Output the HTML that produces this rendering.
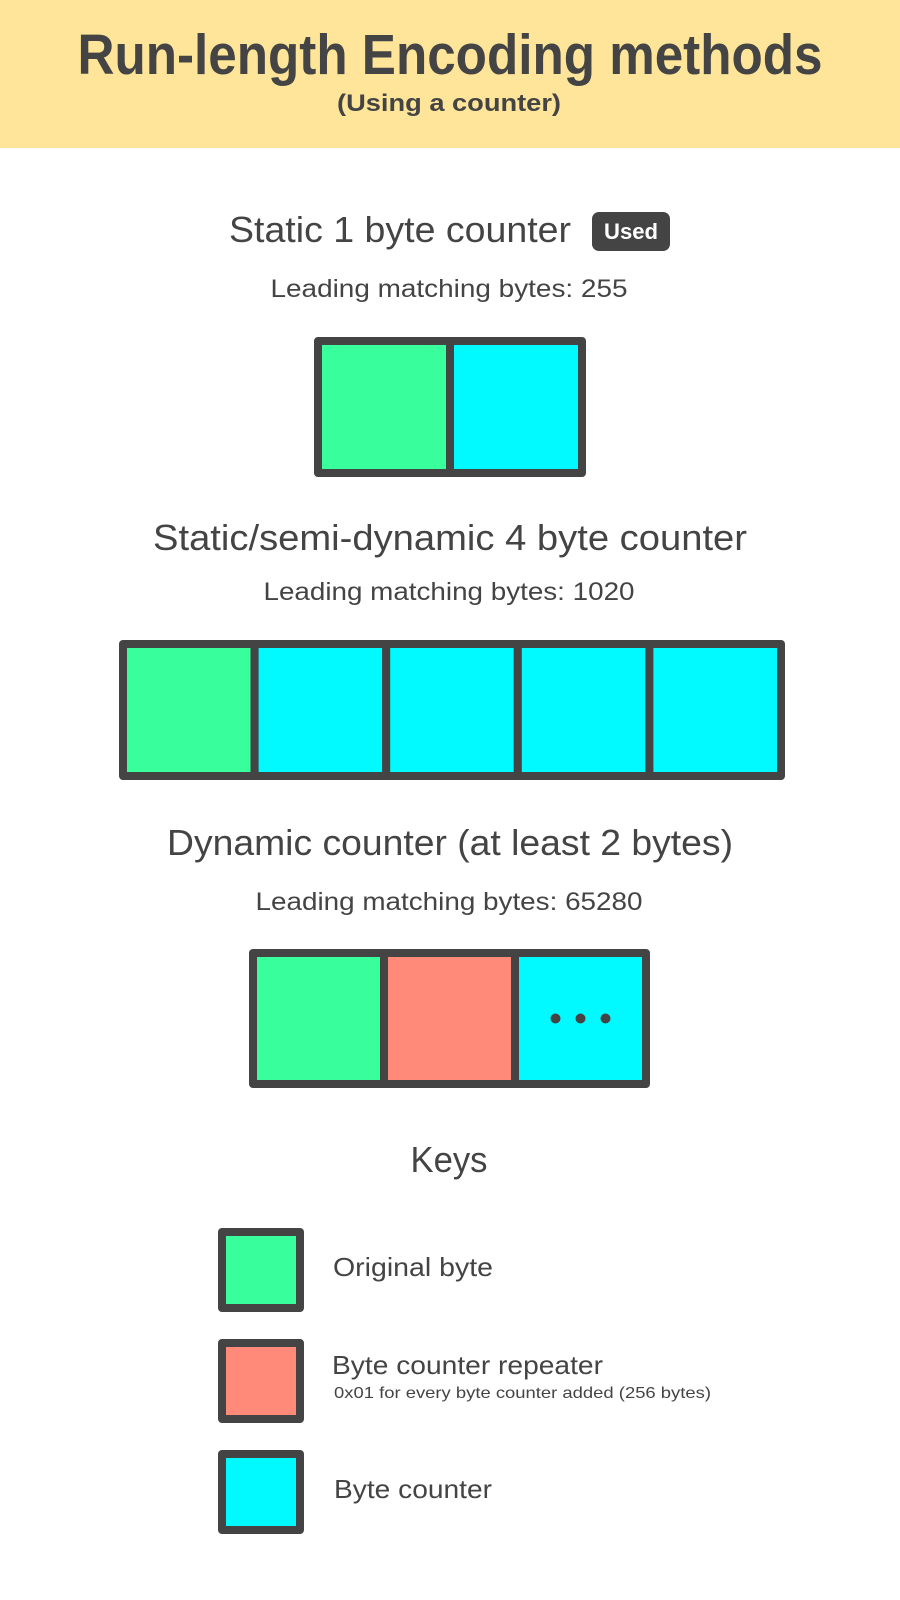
<!DOCTYPE html>
<html><head><meta charset="utf-8"><style>
html,body{margin:0;padding:0;background:#fff}
svg{display:block}
text{font-family:"Liberation Sans",sans-serif;fill:#444}
</style></head><body>
<svg width="900" height="1600" viewBox="0 0 900 1600">
<rect x="0" y="0" width="900" height="148" fill="#FFE599"/>
<text x="450" y="74" text-anchor="middle" font-weight="bold" font-size="57" textLength="745" lengthAdjust="spacingAndGlyphs">Run-length Encoding methods</text>
<text x="449" y="111" text-anchor="middle" font-weight="bold" font-size="24" textLength="224" lengthAdjust="spacingAndGlyphs">(Using a counter)</text>

<text x="400" y="242" text-anchor="middle" font-size="36" textLength="342" lengthAdjust="spacingAndGlyphs">Static 1 byte counter</text>
<rect x="592" y="212" width="78" height="39" rx="7" fill="#444"/>
<text x="631" y="239" text-anchor="middle" font-weight="bold" font-size="22" style="fill:#fff" textLength="54" lengthAdjust="spacingAndGlyphs">Used</text>
<text x="449" y="297" text-anchor="middle" font-size="25" textLength="357" lengthAdjust="spacingAndGlyphs">Leading matching bytes: 255</text>

<text x="450" y="550" text-anchor="middle" font-size="36" textLength="594" lengthAdjust="spacingAndGlyphs">Static/semi-dynamic 4 byte counter</text>
<text x="449" y="600" text-anchor="middle" font-size="25" textLength="371" lengthAdjust="spacingAndGlyphs">Leading matching bytes: 1020</text>

<text x="450" y="855" text-anchor="middle" font-size="36" textLength="566" lengthAdjust="spacingAndGlyphs">Dynamic counter (at least 2 bytes)</text>
<text x="449" y="910" text-anchor="middle" font-size="25" textLength="387" lengthAdjust="spacingAndGlyphs">Leading matching bytes: 65280</text>

<text x="449" y="1172" text-anchor="middle" font-size="36" textLength="77" lengthAdjust="spacingAndGlyphs">Keys</text>
<text x="333" y="1276" font-size="26" textLength="160" lengthAdjust="spacingAndGlyphs">Original byte</text>
<text x="332" y="1374" font-size="26" textLength="271" lengthAdjust="spacingAndGlyphs">Byte counter repeater</text>
<text x="334" y="1398" font-size="16" textLength="377" lengthAdjust="spacingAndGlyphs">0x01 for every byte counter added (256 bytes)</text>
<text x="334" y="1498" font-size="26" textLength="158" lengthAdjust="spacingAndGlyphs">Byte counter</text>
<g id="boxes"></g>
</svg>
<script>
const colors = {o:'#38FF9C', r:'#FF8A7A', c:'#00FAFF'};
const box1 = ['o','c'];
const box2 = ['o','c','c','c','c'];
const box3 = ['o','r','c'];
const keys = ['o','r','c'];
const g = document.getElementById('boxes');
const NS = 'http://www.w3.org/2000/svg';
function row(cells, x0, y0, w, h, name, dotsLast){
  cells.forEach((k,i)=>{
    const r = document.createElementNS(NS,'rect');
    r.setAttribute('x', x0 + i*w); r.setAttribute('y', y0);
    r.setAttribute('width', w); r.setAttribute('height', h);
    r.setAttribute('fill', colors[k]); r.setAttribute('stroke', '#444');
    r.setAttribute('stroke-width', '8'); r.setAttribute('stroke-linejoin','round');
    
    
    g.appendChild(r);
  });
  if(dotsLast){
    const cx = x0 + (cells.length-0.5)*w;
    [-25,0,25].forEach(d=>{
      const c = document.createElementNS(NS,'circle');
      c.setAttribute('cx', cx+d); c.setAttribute('cy', y0+h/2);
      c.setAttribute('r', 5); c.setAttribute('fill', '#444');
      
      
      g.appendChild(c);
    });
  }
}
row(box1, 318, 341, 132, 132, 'static-1-byte-box', false);
row(box2, 123, 644, 131.6, 132, 'static-4-byte-box', false);
row(box3, 253, 953, 131, 131, 'dynamic-box', true);
keys.forEach((k,i)=>{
  row([k], 222, 1232 + i*111, 78, 76, 'key-' + k, false);
});
</script>
</body></html>
